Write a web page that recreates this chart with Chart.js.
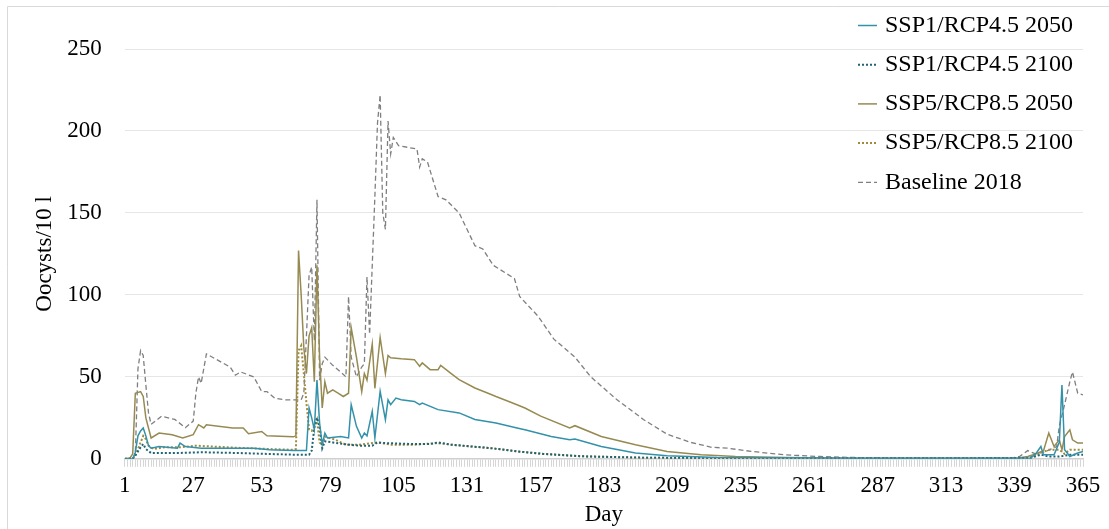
<!DOCTYPE html>
<html>
<head>
<meta charset="utf-8">
<script src="https://cdn.jsdelivr.net/npm/chart.js@4.4.1/dist/chart.umd.min.js"></script>
<style>
  html, body { margin: 0; padding: 0; background: #fff; }
  #wrap { position: relative; width: 1109px; height: 529px; }
</style>
</head>
<body>
<div id="wrap"><canvas id="mycanvas" width="1109" height="529"></canvas></div>
<script>
// x axis: every day of the year, labelled every 26 days
var dayTicks = [];
for (var d = 1; d <= 365; d++) dayTicks.push(d);

// values (day, oocysts/10 l)
var ssp1_2050_days = [1, 4, 5, 6, 7, 8, 9, 10, 11, 14, 21, 22, 24, 30, 50, 56, 65, 70, 71, 72, 73, 74, 75, 76, 77, 78, 83, 86, 87, 89, 91, 92, 93, 95, 96, 98, 100, 101, 102, 104, 106, 111, 113, 114, 120, 128, 134, 142, 150, 153, 163, 170, 172, 182, 195, 207, 226, 277, 300, 345, 347, 349, 350, 354, 356, 357, 358, 359, 360, 363, 365];
var ssp1_2050_vals = [0, 0, 4, 14, 17, 18.8, 14, 8, 6.5, 7.5, 6.5, 9.6, 7.5, 6.5, 6.5, 5.5, 5.1, 5, 31, 25, 17.7, 48, 21.8, 8.6, 15.7, 12.7, 13.6, 12.7, 33, 19.8, 12.7, 15.7, 14, 29, 12.7, 41.2, 23.9, 36, 33, 37, 36, 35, 33, 34, 30, 28, 24, 21.8, 18.8, 17.7, 13.6, 11.6, 12, 7.5, 3.5, 1.8, 0.8, 0.4, 0.3, 0.4, 3, 7.5, 2.4, 2.4, 10, 45, 5.5, 3.5, 1.4, 3.5, 4.5];

var ssp1_2100_days = [1, 4, 5, 7, 8, 9, 11, 20, 30, 45, 55, 65, 71, 72, 73, 74, 75, 76, 77, 80, 84, 90, 95, 97, 100, 110, 117, 120, 125, 140, 150, 160, 175, 200, 250, 300, 345, 349, 352, 356, 360, 365];
var ssp1_2100_vals = [0, 0, 2, 7, 9, 6, 3.5, 3.5, 4, 3.5, 3, 2.5, 2.5, 5, 19, 25, 19.8, 6.5, 10.6, 10, 9, 8, 8, 10, 9.6, 9, 9, 10, 8.6, 6.5, 4.5, 3, 1.5, 0.6, 0.3, 0.3, 0.5, 2.5, 1.4, 1.4, 2.4, 2.4];

var ssp5_2050_days = [1, 3, 4, 5, 7, 8, 9, 11, 14, 19, 23, 27, 29, 31, 32, 42, 46, 48, 53, 55, 60, 65, 66, 67, 68, 69, 70, 71, 72, 73, 74, 75, 76, 77, 78, 80, 82, 84, 86, 87, 89, 91, 92, 93, 95, 96, 98, 100, 101, 102, 106, 111, 113, 114, 117, 120, 121, 125, 128, 134, 139, 142, 150, 153, 159, 170, 172, 182, 195, 207, 220, 233, 252, 277, 300, 340, 344, 347, 350, 352, 354, 356, 357, 358, 360, 361, 363, 365];
var ssp5_2050_vals = [0, 0.5, 3, 40, 41, 38, 25, 12.7, 15.7, 14.7, 12.7, 14.7, 20.8, 18.8, 20.8, 18.8, 18.8, 15.3, 16.7, 14, 13.8, 13.4, 14, 127, 100, 68, 52, 75, 80, 47, 118, 62, 31, 47, 40, 42, 40, 38, 40, 80, 62, 41, 52, 48, 70, 43, 74, 52, 63, 61.6, 61, 60.5, 56.5, 58.5, 54.4, 54.4, 57, 52, 48.3, 43.2, 40, 38, 33, 31, 26, 18.8, 20.2, 13.6, 8.6, 4.5, 2.4, 1.4, 0.8, 0.4, 0.3, 0.3, 1.4, 3, 5, 15.7, 7.5, 11.6, 5.5, 13.6, 17.7, 11.6, 9.6, 9.6];

var ssp5_2100_days = [1, 4, 5, 6, 8, 9, 10, 12, 16, 22, 28, 40, 55, 65, 66, 67, 68, 69, 70, 71, 72, 73, 74, 75, 76, 77, 81, 85, 90, 97, 102, 111, 120, 125, 140, 150, 160, 175, 200, 250, 300, 340, 345, 348, 352, 356, 358, 360, 365];
var ssp5_2100_vals = [0, 0, 2, 6, 14, 12, 8, 6, 7, 7, 8, 7, 6, 5.5, 6, 66, 69, 52, 34, 18, 17, 20, 24, 10, 8.6, 13.6, 11.6, 8.6, 8.6, 10, 8.6, 8.6, 9.6, 8.6, 6.5, 4.5, 3, 1.5, 0.6, 0.3, 0.3, 0.3, 1, 3, 5.5, 5.5, 3, 5.5, 5.5];

var base_days = [1, 4, 5, 6, 7, 8, 9, 10, 11, 15, 20, 24, 27, 28, 29, 30, 32, 41, 43, 45, 50, 53, 55, 58, 62, 68, 69, 70, 71, 72, 73, 74, 75, 76, 77, 80, 83, 85, 86, 87, 89, 91, 92, 93, 94, 95, 96, 97, 98, 99, 100, 101, 102, 103, 105, 112, 113, 114, 116, 120, 123, 128, 131, 134, 137, 141, 149, 151, 158, 164, 172, 178, 188, 198, 207, 216, 224, 230, 239, 252, 265, 277, 300, 338, 341, 344, 347, 350, 353, 355, 356, 358, 360, 361, 363, 365];
var base_vals = [0, 0, 3, 55, 66, 63, 45, 28, 21, 26, 24, 19, 23, 40, 50, 46, 64, 56, 51, 53, 50, 41, 41, 37, 36, 36, 40, 75, 112, 117, 72, 158, 48, 58, 62, 57, 53, 50, 99, 62, 50, 56, 58, 111, 76, 118, 160, 205, 222, 150, 140, 206, 186, 196, 191, 189, 178, 183, 181, 160, 158, 150, 140, 130, 128, 118, 110, 99, 87, 73, 62, 50, 36, 24, 15, 10, 7, 6.5, 4.5, 2.4, 1.4, 0.8, 0.5, 0.5, 1.5, 5, 3, 4, 6, 7.5, 20, 33, 47, 53, 40, 39];

function pts(days, vals) {
  return days.map(function (d, i) { return { x: d, y: vals[i] }; });
}

var FONT = 'Liberation Serif';

// legend drawn over the plot, top right (like the original)
var cornerLegend = {
  id: 'cornerLegend',
  beforeDraw: function (chart) {
    var ctx = chart.ctx;
    ctx.save();
    ctx.strokeStyle = '#d9d9d9';
    ctx.lineWidth = 1;
    ctx.beginPath();
    ctx.moveTo(7.5, 529); ctx.lineTo(7.5, 6.5); ctx.lineTo(1109, 6.5);
    ctx.stroke();
    ctx.restore();
  },
  afterDraw: function (chart) {
    var ctx = chart.ctx;
    ctx.save();
    ctx.font = '24px "' + FONT + '"';
    ctx.textBaseline = 'middle';
    chart.data.datasets.forEach(function (ds, i) {
      var y = 25.5 + i * 39.2;
      ctx.strokeStyle = ds.borderColor;
      ctx.lineWidth = ds.borderWidth;
      ctx.setLineDash(ds.borderDash || []);
      ctx.beginPath();
      ctx.moveTo(858, y);
      ctx.lineTo(877, y);
      ctx.stroke();
      ctx.setLineDash([]);
      ctx.fillStyle = '#000';
      ctx.fillText(ds.label, 885, y);
    });
    ctx.restore();
  }
};

var chartdata = {
  datasets: [
    { label: 'SSP1/RCP4.5 2050', data: pts(ssp1_2050_days, ssp1_2050_vals), borderColor: '#3391aa', borderWidth: 1.5 },
    { label: 'SSP1/RCP4.5 2100', data: pts(ssp1_2100_days, ssp1_2100_vals), borderColor: '#1f6374', borderWidth: 2, borderDash: [2, 2] },
    { label: 'SSP5/RCP8.5 2050', data: pts(ssp5_2050_days, ssp5_2050_vals), borderColor: '#968a52', borderWidth: 1.5 },
    { label: 'SSP5/RCP8.5 2100', data: pts(ssp5_2100_days, ssp5_2100_vals), borderColor: '#a08b3c', borderWidth: 2, borderDash: [2, 2] },
    { label: 'Baseline 2018', data: pts(base_days, base_vals), borderColor: '#7f7f7f', borderWidth: 1.3, borderDash: [5, 3] }
  ]
};

var ctx = document.getElementById('mycanvas');

new Chart(ctx, {
  type: 'line',
  data: chartdata,
  plugins: [cornerLegend],
  options: {
    responsive: false,
    animation: false,
    elements: { point: { radius: 0 }, line: { tension: 0, fill: false } },
    layout: { padding: { left: 31, top: 49, right: 26, bottom: 0 } },
    plugins: {
      legend: { display: false },
      tooltip: { enabled: false }
    },
    scales: {
      x: {
        type: 'linear',
        min: 1,
        max: 365,
        afterBuildTicks: function (axis) {
          axis.ticks = dayTicks.map(function (v) { return { value: v }; });
        },
        ticks: {
          autoSkip: false,
          maxRotation: 0,
          minRotation: 0,
          padding: 5.5,
          color: '#000',
          font: { family: FONT, size: 23 },
          callback: function (value) { return (value - 1) % 26 === 0 ? String(value) : ''; }
        },
        grid: { drawOnChartArea: false, drawTicks: true, tickLength: 8, color: '#d6d6d6' },
        border: { color: '#d0d0d0', width: 1.5 },
        title: {
          display: true,
          text: 'Day',
          color: '#000',
          padding: { top: -4, bottom: 0 },
          font: { family: FONT, size: 23 }
        }
      },
      y: {
        min: 0,
        max: 250,
        ticks: {
          stepSize: 50,
          padding: 0,
          color: '#000',
          font: { family: FONT, size: 23 }
        },
        grid: { drawTicks: true, tickLength: 23, tickColor: 'rgba(0,0,0,0)', color: '#e6e6e6' },
        border: { display: false },
        title: {
          display: true,
          text: 'Oocysts/10 l',
          color: '#000',
          padding: { top: 0, bottom: 8.7 },
          font: { family: FONT, size: 23 }
        }
      }
    }
  }
});
</script>
</body>
</html>
